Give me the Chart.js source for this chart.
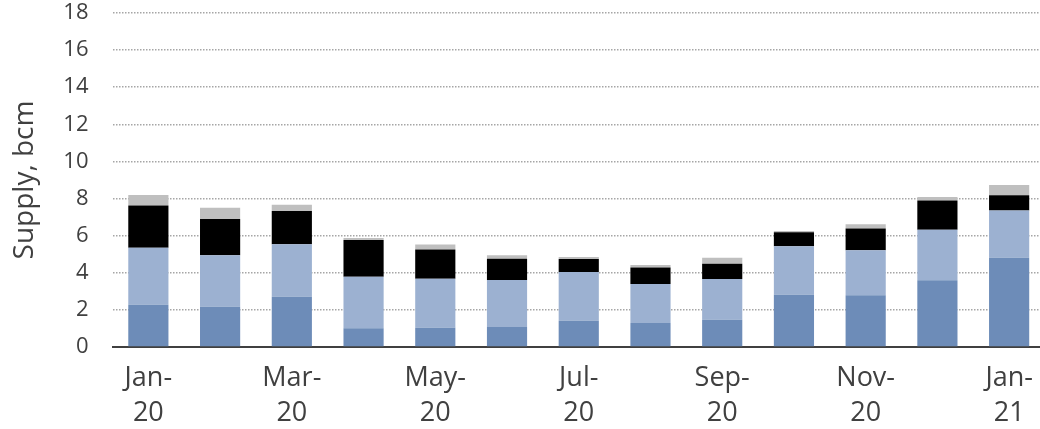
<!DOCTYPE html>
<html>
<head>
<meta charset="utf-8">
<script src="https://cdn.jsdelivr.net/npm/chart.js@4.4.1/dist/chart.umd.min.js"></script>
<style>
    html, body { margin: 0; padding: 0; background: #ffffff; overflow: hidden; }
    #wrap { width: 1045px; height: 429px; }
</style>
</head>
<body>
<div id="wrap"><canvas id="supply-chart" width="1045" height="429"></canvas></div>
<script>
// Monthly supply, bcm (stacked, bottom to top)
const months = [
    ['Jan-', '20'], ['Feb-', '20'], ['Mar-', '20'], ['Apr-', '20'], ['May-', '20'],
    ['Jun-', '20'], ['Jul-', '20'], ['Aug-', '20'], ['Sep-', '20'], ['Oct-', '20'],
    ['Nov-', '20'], ['Dec-', '20'], ['Jan-', '21']
];
const sourceA = [2.28, 2.17, 2.71, 1.01, 1.04, 1.08, 1.42, 1.29, 1.47, 2.82, 2.79, 3.60, 4.81];
const sourceB = [3.07, 2.77, 2.83, 2.78, 2.64, 2.53, 2.62, 2.11, 2.20, 2.61, 2.42, 2.72, 2.54];
const sourceC = [2.27, 1.96, 1.79, 1.98, 1.57, 1.15, 0.70, 0.88, 0.82, 0.75, 1.17, 1.57, 0.83];
const sourceD = [0.57, 0.61, 0.34, 0.11, 0.27, 0.18, 0.11, 0.14, 0.32, 0.07, 0.23, 0.20, 0.55];
const yTicks = [0, 2, 4, 6, 8, 10, 12, 14, 16, 18];

const colors = {
    darkBlue: '#6d8cb8',
    lightBlue: '#9cb1d1',
    black: '#000000',
    grey: '#bfbfbf',
    text: '#404040',
    grid: '#a6a6a6',
    axis: '#404040'
};

const font = '"Open Sans", "Noto Sans", sans-serif';

function makeSet(label, data, color) {
    return {
        label: label,
        data: data,
        backgroundColor: color,
        borderWidth: 0,
        barPercentage: 0.56,
        categoryPercentage: 1.0
    };
}

new Chart(document.getElementById('supply-chart').getContext('2d'), {
    type: 'bar',
    data: {
        labels: months,
        datasets: [
            makeSet('Source A', sourceA, colors.darkBlue),
            makeSet('Source B', sourceB, colors.lightBlue),
            makeSet('Source C', sourceC, colors.black),
            makeSet('Source D', sourceD, colors.grey)
        ]
    },
    options: {
        responsive: false,
        animation: false,
        layout: { padding: { top: 13, right: 0, bottom: 0, left: 0 } },
        plugins: {
            legend: { display: false },
            tooltip: { enabled: false }
        },
        scales: {
            x: {
                stacked: true,
                grid: { display: false },
                border: { display: true, color: colors.axis, width: 2 },
                afterFit: (axis) => { axis.height = 82; },
                ticks: {
                    autoSkip: false,
                    maxRotation: 0,
                    minRotation: 0,
                    padding: 6,
                    color: colors.text,
                    font: { family: font, size: 27, lineHeight: 1.3 },
                    callback: function (value, index) {
                        return index % 2 === 0 ? months[index] : '';
                    }
                }
            },
            y: {
                stacked: true,
                min: 0,
                max: 18,
                afterFit: (axis) => {
                    axis.width = 112.5;
                    // keep the plot area tight to the layout padding
                    axis.paddingTop = 0;
                    axis.paddingBottom = 0;
                },
                afterBuildTicks: (axis) => {
                    axis.ticks = yTicks.map(v => ({ value: v }));
                },
                border: { display: false, dash: [1.5, 1.5] },
                grid: {
                    drawTicks: false,
                    color: colors.grid,
                    lineWidth: 1.5
                },
                ticks: {
                    padding: 24,
                    color: colors.text,
                    font: { family: font, size: 22 }
                },
                title: {
                    display: true,
                    text: 'Supply, bcm',
                    color: colors.text,
                    font: { family: font, size: 28 },
                    padding: { top: 8, bottom: 0 }
                }
            }
        }
    }
});
</script>
</body>
</html>
